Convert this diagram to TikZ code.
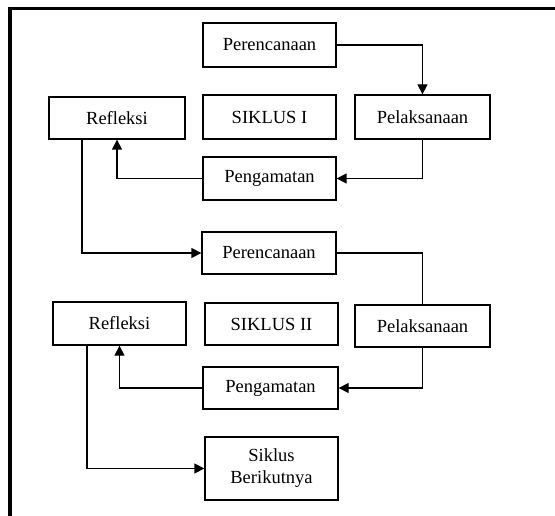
\documentclass[tikz,border=0pt]{standalone}
\usepackage{fontspec}
\setmainfont{Liberation Serif}
\usetikzlibrary{arrows.meta,positioning}

\begin{document}
\begin{tikzpicture}[x=1pt,y=-1pt,
  box/.style={draw,line width=1.3pt,inner sep=2pt,align=center,
    font=\fontsize{18.5}{22}\selectfont},
  flow/.style={line width=1.3pt,-{Triangle[length=10pt,width=10pt]}}]
\useasboundingbox (0,0) rectangle (555,516);
\draw[line width=3.5pt] (10,516) -- (10,8.5) -- (555,8.5);
% siklus I
\node[box,minimum width=133pt,minimum height=44pt] (per1) at (269.5,45) {Perencanaan};
\node[box,minimum width=136pt,minimum height=42pt] (ref1) at (117,118) {Refleksi};
\node[box,minimum width=133pt,minimum height=44pt] (sik1) at (269.5,117) {SIKLUS I};
\node[box,minimum width=135pt,minimum height=44pt] (pel1) at (422.5,117) {Pelaksanaan};
\node[box,minimum width=133pt,minimum height=43pt] (pen1) at (269.5,178.5) {Pengamatan};
% siklus II
\node[box,minimum width=134pt,minimum height=42pt] (per2) at (269,253) {Perencanaan};
\node[box,minimum width=133pt,minimum height=43pt] (ref2) at (119.5,323.5) {Refleksi};
\node[box,minimum width=133pt,minimum height=42pt] (sik2) at (271.5,324) {SIKLUS II};
\node[box,minimum width=135pt,minimum height=42pt] (pel2) at (422.5,326) {Pelaksanaan};
\node[box,minimum width=135pt,minimum height=42pt] (pen2) at (270.5,388) {Pengamatan};
\node[box,minimum width=133pt,minimum height=63pt] (next) at (271.5,468.5) {Siklus\\Berikutnya};
\draw[flow] (per1) -| (pel1);
\draw[flow] (pel1) |- (pen1);
\draw[flow] (pen1) -| (ref1);
\draw[flow] ([xshift=-35pt]ref1.south) |- (per2);
\draw[line width=1.3pt] (per2) -| (pel2);
\draw[flow] (pel2) |- (pen2);
\draw[flow] (pen2) -| (ref2);
\draw[flow] ([xshift=-32.5pt]ref2.south) |- (next);
\end{tikzpicture}
\end{document}
